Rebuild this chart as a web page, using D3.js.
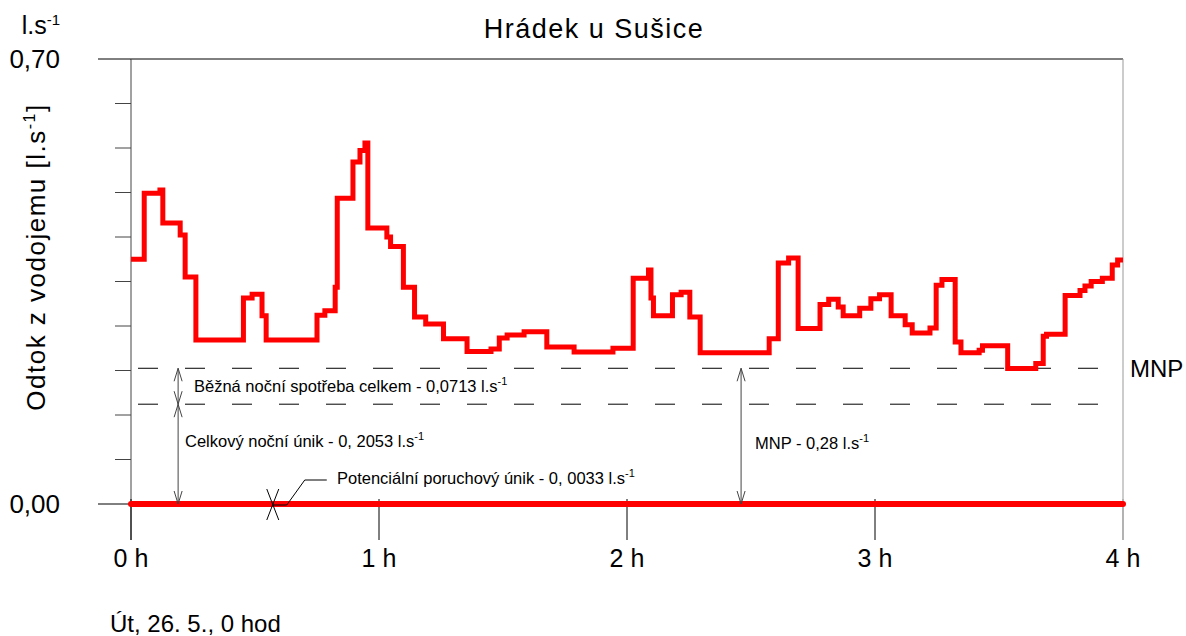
<!DOCTYPE html>
<html>
<head>
<meta charset="utf-8">
<script src="https://cdn.jsdelivr.net/npm/d3@7/dist/d3.min.js"></script>
<style>
html,body{margin:0;padding:0;background:#fff;}
svg text{font-family:"Liberation Sans",Arial,sans-serif;fill:#000;}
</style>
</head>
<body>
<svg id="chart" width="1186" height="636"></svg>
<script>
// ---- data (minutes from 0 h, outflow l/s), step changes ----
const times = [0,3.2,7.0,7.7,11.9,13.1,15.7,27.2,29.3,31.7,32.7,45.0,46.9,49.4,49.9,53.7,55.4,56.6,57.3,61.9,62.8,65.9,68.6,71.3,75.6,81.3,87.1,89.1,91.0,95.1,100.6,107.2,116.6,121.5,125.2,125.8,126.4,131.0,133.1,135.2,137.7,154.4,156.6,159.1,161.4,166.7,168.8,171.1,172.3,176.3,179.0,181.1,183.9,187.3,189.0,193.3,194.8,196.2,199.4,200.8,205.2,206.0,212.1,218.9,220.7,221.5,226.0,229.6,230.8,232.3,235.0,237.4,238.7];
const flows = [0.385,0.489,0.494,0.442,0.423,0.357,0.258,0.324,0.330,0.296,0.258,0.297,0.304,0.341,0.481,0.538,0.556,0.568,0.434,0.420,0.405,0.341,0.294,0.283,0.260,0.240,0.244,0.261,0.266,0.271,0.247,0.239,0.245,0.355,0.368,0.324,0.296,0.329,0.333,0.294,0.238,0.260,0.379,0.387,0.276,0.314,0.322,0.310,0.296,0.308,0.323,0.329,0.296,0.282,0.269,0.277,0.344,0.353,0.255,0.238,0.242,0.249,0.213,0.221,0.264,0.267,0.328,0.336,0.343,0.350,0.355,0.376,0.384];
const endTime = 240;
const leakLevel = [0.0033];            // potential failure leak (drawn on the zero line)
const mnpLevel = 0.2135;               // MNP dashed line
const consumptionLevel = 0.157;        // lower dashed line
const xTickValues = [0,60,120,180,240];
const xTickLabels = ["0 h","1 h","2 h","3 h","4 h"];
const yMinorTicks = [0.07,0.14,0.21,0.28,0.35,0.42,0.49,0.56,0.63];
const yMajorTicks = [0,0.70];
const yMajorLabels = ["0,00","0,70"];

const svg = d3.select("#chart");
svg.append("rect").attr("width",1186).attr("height",636).attr("fill","#fff");

const x = d3.scaleLinear().domain([0,240]).range([131,1123]);
const y = d3.scaleLinear().domain([0,0.7]).range([504,59]);

// title
svg.append("text").attr("x",594).attr("y",38).attr("text-anchor","middle")
  .style("font-size","27px").style("letter-spacing","1.5px").text("Hrádek u Sušice");

// frame
svg.append("line").attr("x1",x(0)).attr("x2",x(240)).attr("y1",y(0.7)).attr("y2",y(0.7)).attr("stroke","#000");
svg.append("line").attr("x1",x(240)).attr("x2",x(240)).attr("y1",y(0.7)).attr("y2",540).attr("stroke","#999");
svg.append("line").attr("x1",x(0)).attr("x2",x(0)).attr("y1",y(0.7)).attr("y2",540).attr("stroke","#444");

// y ticks
svg.selectAll(".ymin").data(yMinorTicks).enter().append("line")
  .attr("x1",115).attr("x2",x(0)).attr("y1",d=>y(d)).attr("y2",d=>y(d)).attr("stroke","#444");
svg.selectAll(".ymaj").data(yMajorTicks).enter().append("line")
  .attr("x1",98).attr("x2",x(0)).attr("y1",d=>y(d)).attr("y2",d=>y(d)).attr("stroke","#000");
svg.selectAll(".ylab").data(yMajorTicks).enter().append("text")
  .attr("x",60).attr("y",d=>y(d)+9).attr("text-anchor","end").style("font-size","26px")
  .text((d,i)=>yMajorLabels[i]);
// unit
const unit = svg.append("text").attr("x",60).attr("y",34).attr("text-anchor","end").style("font-size","25px");
unit.append("tspan").text("l.s");
unit.append("tspan").attr("dy",-9).style("font-size","15px").text("-1");

// y label
const yl = svg.append("text").attr("transform","translate(45,257) rotate(-90)")
  .attr("text-anchor","middle").style("font-size","26px").style("letter-spacing","1.5px");
yl.append("tspan").text("Odtok z vodojemu [l.s");
yl.append("tspan").attr("dy",-10).style("font-size","16px").text("-1");
yl.append("tspan").attr("dy",10).text("]");

// x ticks
svg.selectAll(".xt").data(xTickValues).enter().append("line")
  .attr("x1",d=>x(d)).attr("x2",d=>x(d)).attr("y1",499).attr("y2",540)
  .attr("stroke",(d,i)=>i===4?"#999":"#000");
svg.selectAll(".xl").data(xTickValues).enter().append("text")
  .attr("x",d=>x(d)).attr("y",567).attr("text-anchor","middle").style("font-size","25px")
  .text((d,i)=>xTickLabels[i]);

svg.append("text").attr("x",110).attr("y",632).style("font-size","24px").text("Út, 26. 5., 0 hod");

// dashed lines
[mnpLevel,consumptionLevel].forEach(v=>{
  svg.append("line").attr("x1",x(0)).attr("x2",x(240)).attr("y1",y(v)).attr("y2",y(v))
    .attr("stroke","#000").attr("stroke-dasharray","20,27").attr("stroke-dashoffset",-7);
});
svg.append("text").attr("x",1130).attr("y",y(mnpLevel)+9).style("font-size","24px").text("MNP");

// step line
const pts = times.map((t,i)=>[t,flows[i]]);
pts.push([endTime, flows[flows.length-1]]);
const line = d3.line().x(d=>x(d[0])).y(d=>y(d[1])).curve(d3.curveStepAfter);
svg.append("path").attr("d",line(pts)).attr("fill","none").attr("stroke","#ff0000")
  .attr("stroke-width",5).attr("stroke-linejoin","miter");

// zero line (potential failure leak)
svg.append("line").attr("x1",x(0)).attr("x2",x(240)).attr("y1",y(0)).attr("y2",y(0))
  .attr("stroke","#ff0000").attr("stroke-width",6).attr("stroke-linecap","round");

// arrows
function arrow(px, v1, v2){
  const g = svg.append("g").attr("stroke","#444").attr("fill","none").attr("stroke-width",1);
  const ya = y(v1), yb = y(v2);
  g.append("line").attr("x1",px).attr("x2",px).attr("y1",ya).attr("y2",yb);
  g.append("path").attr("d",`M${px-4},${ya+13}L${px},${ya}L${px+4},${ya+13}`);
  g.append("path").attr("d",`M${px-4},${yb-13}L${px},${yb}L${px+4},${yb-13}`);
}
arrow(x(11.4), mnpLevel, consumptionLevel);
arrow(x(11.4), consumptionLevel, 0);
arrow(x(147.6), mnpLevel, 0);

// X marker + leader for potential leak
const mx = x(34.3), my = y(leakLevel[0]*0);
svg.append("path").attr("d",`M${mx-6},${my-15}L${mx+6},${my+16}M${mx+6},${my-15}L${mx-6},${my+16}`)
  .attr("stroke","#000").attr("fill","none");
svg.append("path").attr("d",`M${mx},${my+1}L${mx+14},${my+1}L${mx+32},${my-24}L${mx+54},${my-24}`)
  .attr("stroke","#000").attr("fill","none");

// annotations
function annot(tx, ty, main){
  const t = svg.append("text").attr("x",tx).attr("y",ty).style("font-size","16.5px").attr("fill","#222");
  t.append("tspan").text(main);
  t.append("tspan").attr("dy",-7).style("font-size","11px").text("-1");
}
annot(194,392,"Běžná noční spotřeba celkem - 0,0713 l.s");
annot(185,447,"Celkový noční únik - 0, 2053 l.s");
annot(337,484,"Potenciální poruchový únik - 0, 0033 l.s");
annot(755,449,"MNP - 0,28 l.s");
</script>
</body>
</html>
